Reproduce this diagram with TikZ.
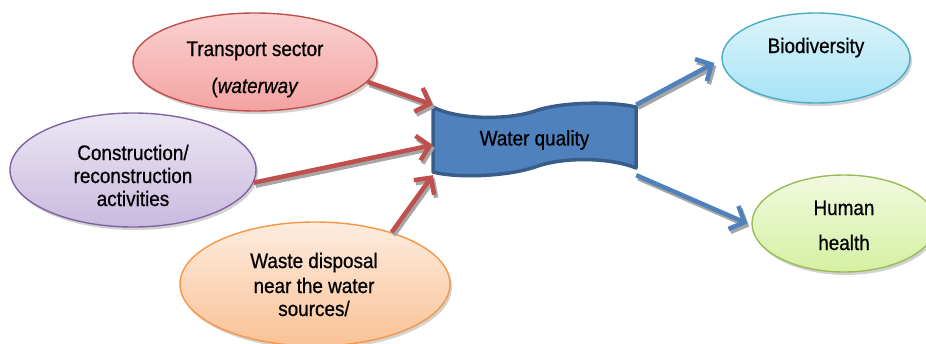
\documentclass[tikz,border=0pt]{standalone}
\usepackage{fontspec}
\setmainfont[FakeStretch=0.9, FakeBold=0.7]{Liberation Sans}
\usetikzlibrary{shapes.geometric,shadows,arrows.meta}

\definecolor{trTop}{HTML}{FAD2D1}
\definecolor{trBot}{HTML}{F3A3A1}
\definecolor{trLine}{HTML}{C0504D}
\definecolor{coTop}{HTML}{ECE7F4}
\definecolor{coBot}{HTML}{C9BADF}
\definecolor{coLine}{HTML}{8064A2}
\definecolor{wdTop}{HTML}{FDECDF}
\definecolor{wdBot}{HTML}{FAC296}
\definecolor{wdLine}{HTML}{F79646}
\definecolor{bdTop}{HTML}{DDF4FB}
\definecolor{bdBot}{HTML}{A6E3F6}
\definecolor{bdLine}{HTML}{4BACC6}
\definecolor{hhTop}{HTML}{F1F9E0}
\definecolor{hhBot}{HTML}{D5F0A2}
\definecolor{hhLine}{HTML}{9BBB59}
\definecolor{wqFill}{HTML}{4F81BD}
\definecolor{wqLine}{HTML}{385D8A}
\definecolor{inRed}{HTML}{C0504D}
\definecolor{outBlue}{HTML}{4F81BD}

% arrow drawn twice: a grey offset copy, then the coloured one
\newcommand\flowarrow[3]{%
  \draw[flowshadow] #2 -- #3;
  \draw[flow, draw=#1] #2 -- #3;}

\begin{document}
\begin{tikzpicture}[x=1pt, y=-1pt,
  bubble/.style={ellipse, inner sep=0pt, line width=1.4pt,
    drop shadow={shadow xshift=2pt, shadow yshift=-3pt, fill=black!35}},
  lbl/.style={anchor=base, inner sep=0pt, font=\fontsize{21}{24}\selectfont},
  flow/.style={line width=4.5pt,
    -{Straight Barb[length=12pt, width=25pt, line width=4.5pt]}},
  flowshadow/.style={flow, draw=black!35,
    transform canvas={shift={(2pt,-3pt)}}}
]
\useasboundingbox (0,0) rectangle (926,343);
\clip (0,0) rectangle (926,343);

% causes
\node[bubble, minimum width=244pt, minimum height=98pt, draw=trLine,
  top color=trTop, bottom color=trBot] (transport) at (255,62) {};
\node[bubble, minimum width=246pt, minimum height=114pt, draw=coLine,
  top color=coTop, bottom color=coBot] (constr) at (133,170) {};
\node[bubble, minimum width=270pt, minimum height=124pt, draw=wdLine,
  top color=wdTop, bottom color=wdBot] (waste) at (315,284) {};

% effects
\node[bubble, minimum width=188pt, minimum height=90pt, draw=bdLine,
  top color=bdTop, bottom color=bdBot] (bio) at (816,58) {};
\node[bubble, minimum width=184pt, minimum height=97pt, draw=hhLine,
  top color=hhTop, bottom color=hhBot] (human) at (844,223.5) {};

% wavy banner
\filldraw[fill=wqFill, draw=wqLine, line width=3.5pt, line join=round]
  (433,107) .. controls (455,119) and (505,121) .. (535,111)
  .. controls (560,102) and (610,101) .. (636,107)
  -- (636,168)
  .. controls (612,158) and (565,156) .. (535,167)
  .. controls (505,177) and (455,178) .. (433,172) -- cycle;
\node[inner sep=0pt, minimum width=203pt, minimum height=70pt,
  font=\fontsize{21}{24}\selectfont] (wq) at (534.5,140) {Water quality};

% labels
\node[lbl] (transport1) at (255,56) {Transport sector};
\node[lbl] (transport2) at (255,93) {(\textit{waterway}};
\node[lbl] (constr1) at (133,160) {Construction/};
\node[lbl] (constr2) at (133,183) {reconstruction};
\node[lbl] (constr3) at (133,206) {activities};
\node[lbl] (waste1) at (314,268) {Waste disposal};
\node[lbl] (waste2) at (314,293) {near the water};
\node[lbl] (waste3) at (314,316) {sources/};
\node[lbl] (bio1) at (816,53) {Biodiversity};
\node[lbl] (human1) at (844,215) {Human};
\node[lbl] (human2) at (844,250) {health};

% connectors
\flowarrow{inRed}{(transport.-10)}{(wq.north west)}
\flowarrow{inRed}{(constr.-6)}{([yshift=-5pt]wq.west)}
\flowarrow{inRed}{(waste.34)}{(wq.south west)}
\flowarrow{outBlue}{(wq.north east)}{([shift={(-7,5)}]bio.west)}
\flowarrow{outBlue}{(wq.south east)}{([xshift=-4pt]human.west)}
\end{tikzpicture}
\end{document}
